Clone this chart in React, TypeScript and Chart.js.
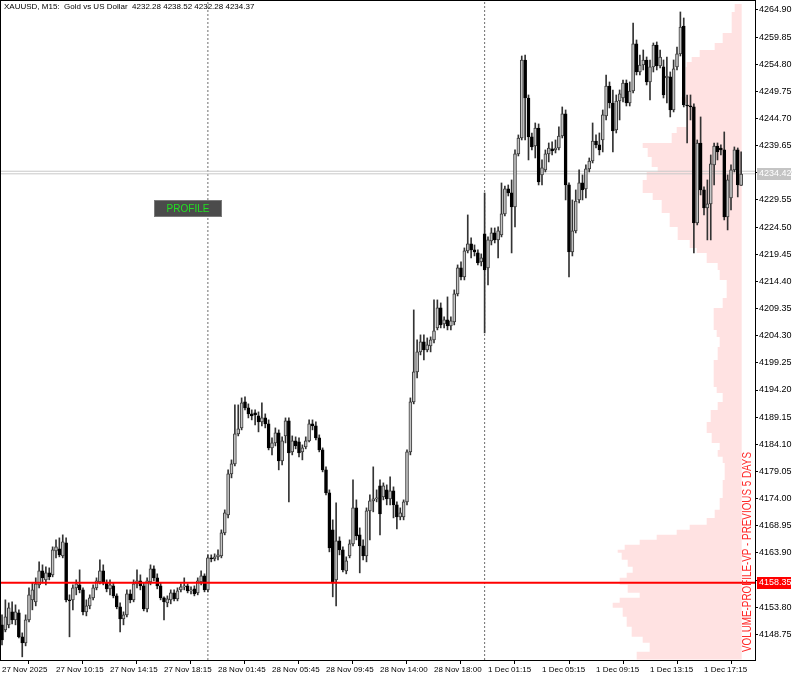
import React, { useEffect, useRef } from "react";
import { Chart, registerables } from "chart.js";

Chart.register(...registerables);

// ---------- data ----------
const titleText = "XAUUSD, M15:  Gold vs US Dollar  4232.28 4238.52 4232.28 4234.37";
const vpLabel = "VOLUME-PROFILE-VP - PREVIOUS 5 DAYS";
const buttonLabel = "PROFILE";

const timeLabels = [
  "27 Nov 2025", "27 Nov 10:15", "27 Nov 14:15", "27 Nov 18:15", "28 Nov 01:45", "28 Nov 05:45",
  "28 Nov 09:45", "28 Nov 14:00", "28 Nov 18:00", "1 Dec 01:15", "1 Dec 05:15", "1 Dec 09:15",
  "1 Dec 13:15", "1 Dec 17:15",
];
const timeLabelBars = [0, 16, 32, 48, 64, 80, 96, 112, 128, 144, 160, 176, 192, 208];

const priceTicks = [
  4148.75, 4153.8, 4158.85, 4163.9, 4168.95, 4174.0, 4179.05, 4184.1, 4189.15, 4194.2, 4199.25, 4204.3,
  4209.35, 4214.4, 4219.45, 4224.5, 4229.55, 4234.6, 4239.65, 4244.7, 4249.75, 4254.8, 4259.85, 4264.9,
];

const opens = [
  4150.51, 4149.58, 4150.51, 4152.93, 4151.44, 4152.74, 4148.28, 4147.16, 4151.44, 4155.16,
  4154.79, 4157.95, 4160.55, 4158.88, 4160.18, 4159.81, 4164.27, 4164.65, 4163.34, 4165.76,
  4155.16, 4155.16, 4157.39, 4157.95, 4157.02, 4152.93, 4154.04, 4155.53, 4157.39, 4158.51,
  4160.55, 4158.32, 4157.21, 4157.76, 4155.90, 4153.86, 4151.63, 4152.37, 4156.28, 4155.16,
  4158.14, 4158.69, 4157.76, 4153.49, 4158.51, 4160.93, 4159.25, 4157.76, 4155.53, 4154.60,
  4155.16, 4156.46, 4155.35, 4157.02, 4157.58, 4157.76, 4156.83, 4157.21, 4156.46, 4158.51,
  4159.62, 4157.02, 4162.97, 4162.79, 4163.16, 4163.34, 4167.62, 4170.97, 4178.60, 4180.46,
  4186.04, 4187.15, 4191.99, 4190.87, 4189.76, 4189.94, 4189.38, 4188.27, 4189.01, 4187.90,
  4183.43, 4184.36, 4186.22, 4181.01, 4185.66, 4188.45, 4182.69, 4184.73, 4184.55, 4182.69,
  4183.62, 4184.73, 4187.90, 4187.52, 4185.29, 4183.06, 4179.34, 4175.06, 4168.18, 4158.88,
  4166.13, 4164.46, 4160.55, 4163.34, 4165.58, 4172.27, 4167.25, 4165.20, 4163.34, 4171.71,
  4173.57, 4173.95, 4176.36, 4174.32, 4175.62, 4173.95, 4175.43, 4172.83, 4170.60, 4170.60,
  4173.39, 4182.69, 4191.99, 4197.57, 4201.29, 4203.15, 4201.66, 4202.40, 4203.52, 4205.75,
  4209.47, 4206.50, 4207.24, 4206.12, 4206.87, 4212.08, 4216.91, 4215.24, 4220.07, 4221.38,
  4220.26, 4219.70, 4218.03, 4223.24, 4216.91, 4221.93, 4223.42, 4222.12, 4223.05, 4226.96,
  4231.61, 4230.86, 4228.26, 4238.12, 4241.09, 4255.60, 4248.53, 4241.28, 4239.60, 4242.95,
  4234.21, 4235.14, 4238.12, 4239.05, 4238.86, 4239.23, 4241.46, 4245.56, 4232.35, 4219.89,
  4223.79, 4229.56, 4232.72, 4231.61, 4235.33, 4236.81, 4240.53, 4239.79, 4240.72, 4245.18,
  4250.76, 4247.60, 4242.58, 4247.97, 4248.53, 4251.32, 4247.60, 4249.83, 4258.58, 4253.37,
  4254.67, 4255.60, 4251.51, 4254.30, 4258.39, 4254.48, 4254.30, 4252.25, 4252.44, 4246.30,
  4254.30, 4256.72, 4261.92, 4247.23, 4247.04, 4246.86, 4225.28, 4240.16, 4231.42, 4228.07,
  4228.82, 4236.07, 4239.60, 4239.23, 4238.86, 4226.40, 4229.93, 4235.14, 4238.86, 4232.28,
];

const highs = [
  4152.37, 4155.16, 4154.60, 4154.79, 4154.23, 4153.30, 4149.02, 4152.37, 4157.39, 4158.32,
  4159.25, 4162.23, 4161.67, 4161.30, 4161.11, 4165.02, 4166.32, 4166.69, 4167.25, 4166.69,
  4156.09, 4157.95, 4158.88, 4160.74, 4157.39, 4155.16, 4156.09, 4157.95, 4159.25, 4162.60,
  4161.67, 4158.88, 4158.88, 4158.32, 4156.28, 4154.60, 4152.93, 4157.02, 4157.02, 4158.88,
  4160.74, 4159.81, 4158.32, 4159.25, 4161.67, 4161.48, 4160.00, 4158.32, 4155.72, 4155.90,
  4157.02, 4157.02, 4157.39, 4158.14, 4159.25, 4158.14, 4157.58, 4157.76, 4159.25, 4160.55,
  4160.00, 4163.53, 4163.53, 4163.72, 4164.46, 4168.18, 4171.90, 4179.34, 4181.20, 4191.43,
  4191.43, 4192.73, 4192.92, 4191.62, 4190.50, 4190.50, 4190.13, 4191.80, 4189.76, 4188.64,
  4185.29, 4187.15, 4186.78, 4185.48, 4189.01, 4189.01, 4185.66, 4185.48, 4185.29, 4183.99,
  4185.48, 4188.64, 4188.64, 4188.27, 4185.85, 4183.43, 4179.90, 4175.62, 4170.04, 4173.20,
  4166.88, 4165.02, 4163.16, 4166.32, 4177.48, 4173.76, 4168.55, 4166.32, 4172.27, 4174.69,
  4179.90, 4175.62, 4177.48, 4176.92, 4176.55, 4178.04, 4176.18, 4173.39, 4172.27, 4173.76,
  4183.06, 4192.73, 4209.10, 4203.52, 4204.45, 4204.45, 4203.89, 4204.08, 4210.96, 4210.96,
  4210.40, 4207.80, 4211.52, 4207.80, 4212.82, 4217.47, 4218.03, 4220.63, 4226.77, 4222.49,
  4221.19, 4220.26, 4219.52, 4230.86, 4222.68, 4224.35, 4224.35, 4224.54, 4232.72, 4232.16,
  4232.35, 4233.28, 4238.86, 4241.65, 4256.34, 4256.53, 4249.09, 4242.02, 4243.88, 4243.70,
  4237.00, 4238.86, 4240.16, 4240.35, 4240.72, 4243.14, 4246.86, 4246.30, 4232.72, 4229.56,
  4231.42, 4235.14, 4234.21, 4236.07, 4237.37, 4243.88, 4241.65, 4242.02, 4246.30, 4252.81,
  4251.51, 4250.02, 4249.09, 4250.02, 4251.88, 4251.88, 4251.51, 4262.48, 4259.32, 4256.53,
  4257.46, 4256.16, 4255.60, 4258.76, 4258.95, 4257.46, 4255.60, 4256.16, 4253.37, 4255.60,
  4258.02, 4264.53, 4263.41, 4249.09, 4249.09, 4247.42, 4240.72, 4245.00, 4231.98, 4233.28,
  4237.93, 4240.16, 4240.16, 4239.79, 4242.21, 4234.21, 4236.07, 4239.42, 4239.23, 4238.52,
];

const lows = [
  4146.79, 4149.21, 4149.95, 4150.70, 4150.51, 4148.09, 4144.56, 4146.60, 4151.07, 4153.30,
  4154.04, 4157.39, 4158.32, 4157.95, 4158.88, 4159.44, 4162.97, 4163.16, 4162.97, 4154.79,
  4148.28, 4153.30, 4156.09, 4156.46, 4152.37, 4152.18, 4153.49, 4155.16, 4157.02, 4158.14,
  4157.95, 4156.65, 4156.09, 4155.53, 4153.49, 4149.21, 4150.51, 4152.00, 4154.60, 4154.79,
  4157.39, 4157.02, 4153.11, 4152.93, 4157.95, 4158.69, 4157.21, 4155.16, 4151.44, 4153.86,
  4154.42, 4154.97, 4154.97, 4156.65, 4157.02, 4156.46, 4156.28, 4155.90, 4156.09, 4157.95,
  4156.65, 4156.65, 4162.23, 4162.41, 4162.60, 4162.97, 4167.25, 4170.41, 4177.85, 4180.08,
  4185.66, 4186.78, 4190.50, 4189.01, 4188.64, 4187.71, 4186.41, 4187.52, 4187.15, 4183.06,
  4182.13, 4183.80, 4179.34, 4180.27, 4184.36, 4173.39, 4182.13, 4183.25, 4181.76, 4181.20,
  4183.25, 4184.55, 4186.78, 4184.92, 4182.69, 4178.97, 4174.69, 4164.09, 4155.72, 4154.04,
  4163.53, 4160.37, 4160.00, 4162.97, 4165.20, 4166.32, 4160.18, 4162.60, 4162.23, 4166.32,
  4171.53, 4173.39, 4167.25, 4173.76, 4172.83, 4172.83, 4170.41, 4168.37, 4170.04, 4170.04,
  4172.83, 4182.13, 4191.62, 4196.45, 4200.73, 4199.80, 4201.29, 4201.29, 4202.96, 4205.38,
  4205.75, 4205.75, 4205.38, 4205.38, 4206.31, 4211.70, 4214.68, 4214.68, 4219.70, 4218.77,
  4219.14, 4217.47, 4217.28, 4204.82, 4213.75, 4221.19, 4221.56, 4218.77, 4222.68, 4226.58,
  4230.30, 4219.70, 4224.54, 4237.74, 4240.72, 4240.72, 4237.00, 4238.86, 4237.37, 4232.35,
  4232.35, 4234.77, 4236.63, 4237.93, 4238.30, 4238.86, 4241.09, 4229.56, 4215.24, 4219.14,
  4223.42, 4229.00, 4229.56, 4229.93, 4234.77, 4236.44, 4239.23, 4237.93, 4238.49, 4244.44,
  4246.67, 4238.49, 4242.02, 4244.44, 4247.79, 4247.04, 4247.04, 4249.46, 4252.81, 4252.81,
  4253.74, 4250.95, 4248.16, 4253.37, 4253.74, 4254.11, 4248.53, 4247.60, 4245.00, 4245.93,
  4253.74, 4256.34, 4246.86, 4240.16, 4244.44, 4219.70, 4224.91, 4230.49, 4226.77, 4222.12,
  4222.12, 4232.35, 4237.00, 4237.93, 4225.84, 4223.98, 4227.70, 4234.77, 4230.12, 4232.28,
];

const closes = [
  4147.72, 4152.00, 4153.67, 4151.44, 4152.93, 4148.28, 4147.16, 4151.44, 4156.09, 4157.02,
  4158.14, 4160.55, 4159.25, 4160.18, 4159.44, 4164.46, 4165.02, 4163.53, 4165.95, 4155.16,
  4154.97, 4157.39, 4158.14, 4157.02, 4152.93, 4154.04, 4155.53, 4157.39, 4158.69, 4160.55,
  4158.32, 4157.21, 4157.95, 4155.90, 4153.86, 4151.63, 4152.37, 4156.28, 4155.16, 4158.14,
  4158.69, 4157.76, 4153.49, 4158.69, 4160.93, 4159.25, 4157.76, 4155.53, 4154.79, 4155.35,
  4156.46, 4155.35, 4156.83, 4157.58, 4157.76, 4156.83, 4157.02, 4156.28, 4158.69, 4159.62,
  4157.02, 4162.97, 4162.79, 4163.16, 4163.53, 4167.62, 4171.34, 4178.60, 4180.46, 4186.04,
  4186.97, 4191.80, 4190.87, 4189.76, 4189.38, 4189.57, 4188.27, 4189.01, 4187.90, 4183.43,
  4184.36, 4186.22, 4181.01, 4184.73, 4188.45, 4182.50, 4184.73, 4183.80, 4182.50, 4183.43,
  4184.73, 4187.90, 4187.52, 4185.29, 4183.06, 4179.34, 4175.06, 4164.83, 4158.32, 4166.13,
  4164.46, 4160.74, 4162.41, 4165.58, 4172.27, 4167.06, 4165.20, 4163.34, 4171.71, 4173.57,
  4173.95, 4174.13, 4171.16, 4176.36, 4173.95, 4175.43, 4172.83, 4170.60, 4171.34, 4173.39,
  4182.69, 4191.99, 4197.57, 4201.29, 4203.15, 4201.66, 4202.59, 4203.52, 4205.19, 4209.47,
  4206.31, 4207.24, 4206.12, 4207.05, 4212.08, 4216.91, 4215.24, 4220.07, 4221.38, 4220.26,
  4219.89, 4217.84, 4218.77, 4216.54, 4222.12, 4223.42, 4222.12, 4223.79, 4226.96, 4231.61,
  4230.86, 4228.26, 4238.12, 4241.09, 4255.60, 4248.53, 4241.28, 4239.42, 4242.95, 4232.91,
  4235.51, 4238.12, 4239.23, 4238.67, 4239.23, 4241.46, 4245.56, 4232.35, 4219.89, 4223.79,
  4229.37, 4232.72, 4231.42, 4235.33, 4236.81, 4240.53, 4239.79, 4238.86, 4245.37, 4250.76,
  4247.60, 4242.39, 4247.97, 4249.28, 4251.32, 4247.60, 4249.83, 4258.58, 4253.37, 4254.67,
  4255.60, 4251.51, 4254.30, 4258.39, 4254.48, 4256.16, 4249.09, 4252.62, 4246.30, 4253.93,
  4256.72, 4261.74, 4247.23, 4247.04, 4246.86, 4225.28, 4240.16, 4231.42, 4228.07, 4228.82,
  4236.26, 4239.60, 4238.49, 4238.86, 4226.40, 4233.28, 4235.14, 4238.86, 4232.35, 4234.37,
];

// volume profile (previous 5 days): lower price of each band and its volume
const vpPrices = [
  4144.0, 4145.49, 4147.16, 4148.28, 4150.14, 4152.0, 4153.67, 4154.6, 4155.53, 4156.46,
  4157.95, 4159.25, 4160.18, 4161.3, 4162.6, 4163.9, 4164.46, 4165.39, 4166.32, 4167.25,
  4168.18, 4169.11, 4170.41, 4171.9, 4174.13, 4177.48, 4180.64, 4181.76, 4183.06, 4184.36,
  4186.22, 4188.27, 4190.5, 4191.99, 4193.66, 4194.78, 4199.8, 4202.22, 4204.08, 4205.38,
  4209.47, 4211.33, 4214.68, 4216.54, 4217.84, 4219.7, 4220.63, 4222.12, 4224.54, 4227.14,
  4229.56, 4230.86, 4233.28, 4234.77, 4235.7, 4237.56, 4239.23, 4240.16, 4242.02, 4243.14,
  4247.6, 4248.72, 4254.3, 4255.23, 4256.16, 4257.46, 4258.76, 4260.62, 4264.53, 4266.02,
];
const vpVolumes = [
  105, 92, 99, 110, 115, 119, 129, 122, 102, 114,
  122, 115, 109, 114, 120, 124, 117, 102, 85, 65,
  52, 35, 27, 22, 19, 17, 19, 24, 22, 30,
  35, 31, 24, 19, 25, 28, 24, 22, 25, 28,
  19, 15, 22, 24, 35, 45, 52, 64, 72, 80,
  89, 99, 95, 84, 90, 94, 99, 70, 65, 55,
  60, 56, 55, 50, 42, 27, 19, 10, 7, 7,
];

const daySeparatorBars = [61, 143];
const levelPrice = 4158.35;
const bidPrice = 4234.42;
const askPrice = 4234.9;

// ---------- view ranges ----------
const X_MIN = -0.296;
const X_MAX = 223.111;
const Y_MIN = 4143.97;
const Y_MAX = 4266.57;
const VP_MIN = -13.3;
const VP_MAX = 740.7;

const FONT = '"Liberation Sans", Arial, sans-serif';

const overlayPlugin = {
  id: "mtOverlay",
  afterDraw(chart: any) {
    const { ctx, chartArea: a, scales } = chart;
    const ys = scales.y;
    ctx.save();
    // frame
    ctx.strokeStyle = "#000";
    ctx.lineWidth = 1;
    ctx.strokeRect(a.left - 0.5, a.top - 0.5, a.right - a.left + 1, a.bottom - a.top + 1);

    // title
    ctx.fillStyle = "#000";
    ctx.font = `8px ${FONT}`;
    ctx.textAlign = "left";
    ctx.textBaseline = "middle";
    ctx.fillText(titleText, a.left + 3, a.top + 6);

    // price labels on the axis
    const box = (price: number, bg: string, fg: string) => {
      const py = Math.round(ys.getPixelForValue(price));
      ctx.fillStyle = bg;
      ctx.fillRect(a.right + 2, py - 6, 34, 12);
      ctx.fillStyle = fg;
      ctx.font = `9px ${FONT}`;
      ctx.textAlign = "left";
      ctx.textBaseline = "middle";
      ctx.fillText(price.toFixed(2), a.right + 4, py);
    };
    box(bidPrice, "#c4c4c4", "#ffffff");
    box(levelPrice, "#ff0000", "#ffffff");

    // PROFILE button
    const bx = a.left + 153, by = a.top + 199, bw = 68, bh = 17;
    ctx.fillStyle = "#4b4b4b";
    ctx.fillRect(bx, by, bw, bh);
    ctx.strokeStyle = "#7a7a7a";
    ctx.strokeRect(bx + 0.5, by + 0.5, bw - 1, bh - 1);
    ctx.fillStyle = "#22e022";
    ctx.font = `10px ${FONT}`;
    ctx.textAlign = "center";
    ctx.textBaseline = "middle";
    ctx.fillText(buttonLabel, bx + bw / 2, by + bh / 2 + 0.5);

    // vertical indicator caption
    ctx.save();
    ctx.translate(a.right - 7, 552);
    ctx.rotate(-Math.PI / 2);
    ctx.font = `12px ${FONT}`;
    const w = ctx.measureText(vpLabel).width;
    ctx.scale(200 / w, 1);
    ctx.fillStyle = "#ff2a2a";
    ctx.textAlign = "center";
    ctx.textBaseline = "middle";
    ctx.fillText(vpLabel, 0, 0);
    ctx.restore();

    ctx.restore();
  },
};

export default function App() {
  const ref = useRef<HTMLCanvasElement>(null);

  useEffect(() => {
    const bull = opens.map((o, i) => closes[i] >= o);
    const datasets: any[] = [
      {
        type: "line",
        label: "volume profile",
        indexAxis: "y",
        xAxisID: "xv",
        yAxisID: "y",
        data: vpPrices.map((p, k) => ({ x: vpVolumes[k], y: p })),
        stepped: "after",
        fill: "origin",
        backgroundColor: "#ffe2e2",
        borderColor: "transparent",
        borderWidth: 0,
        pointRadius: 0,
        order: 10,
      },
      ...daySeparatorBars.map((s) => ({
        type: "line",
        label: "separator",
        xAxisID: "x",
        yAxisID: "y",
        data: [
          { x: s, y: Y_MIN },
          { x: s, y: Y_MAX },
        ],
        borderColor: "#6e6e6e",
        borderWidth: 1,
        borderDash: [2, 2],
        pointRadius: 0,
        fill: false,
        order: 8,
      })),
      ...[bidPrice, askPrice].map((p) => ({
        type: "line",
        label: "bid",
        xAxisID: "x",
        yAxisID: "y",
        data: [
          { x: X_MIN, y: p },
          { x: X_MAX, y: p },
        ],
        borderColor: "#c8c8c8",
        borderWidth: 1,
        pointRadius: 0,
        fill: false,
        order: 7,
      })),
      {
        type: "bar",
        label: "wicks",
        xAxisID: "x",
        yAxisID: "y",
        data: highs.map((h, i) => ({ x: i, y: [lows[i], h] })),
        barThickness: 1,
        grouped: false,
        backgroundColor: "#333333",
        borderWidth: 0,
        order: 3,
      },
      {
        type: "bar",
        label: "bodies",
        xAxisID: "x",
        yAxisID: "y",
        data: opens.map((o, i) => ({ x: i, y: [o, closes[i]] })),
        barThickness: 3,
        grouped: false,
        minBarLength: 1,
        backgroundColor: bull.map((b) => (b ? "#c4c4c4" : "#000000")),
        borderColor: bull.map((b) => (b ? "#3a3a3a" : "#000000")),
        borderWidth: 1,
        borderSkipped: false,
        order: 2,
      },
      {
        type: "line",
        label: "level",
        xAxisID: "x",
        yAxisID: "y",
        data: [
          { x: X_MIN, y: levelPrice },
          { x: X_MAX, y: levelPrice },
        ],
        borderColor: "#ff0000",
        borderWidth: 2,
        pointRadius: 0,
        fill: false,
        order: 0,
      },
    ];

    const chart = new Chart(ref.current as HTMLCanvasElement, {
      type: "bar",
      data: { datasets },
      options: {
        responsive: false,
        maintainAspectRatio: false,
        animation: false,
        devicePixelRatio: 1,
        events: [],
        layout: { padding: { left: 1, top: 1, right: 0, bottom: 0 } },
        plugins: { legend: { display: false }, tooltip: { enabled: false }, title: { display: false } },
        scales: {
          x: {
            type: "linear",
            position: "bottom",
            min: X_MIN,
            max: X_MAX,
            offset: false,
            afterBuildTicks: (scale: any) => {
              scale.ticks = timeLabelBars.map((v) => ({ value: v }));
            },
            afterFit: (scale: any) => {
              scale.height = 19;
              scale.paddingLeft = 0;
              scale.paddingRight = 0;
            },
            ticks: {
              autoSkip: false,
              maxRotation: 0,
              minRotation: 0,
              align: "start",
              padding: 1,
              color: "#000",
              font: { family: FONT, size: 8 },
              callback: (_v: any, idx: number) => timeLabels[idx],
            },
            grid: { display: true, drawOnChartArea: false, drawTicks: true, tickLength: 4, color: "#000" },
            border: { display: true, color: "#000" },
          },
          xv: {
            type: "linear",
            axis: "x",
            position: "top",
            display: false,
            offset: false,
            reverse: true,
            min: VP_MIN,
            max: VP_MAX,
          },
          y: {
            type: "linear",
            position: "right",
            min: Y_MIN,
            max: Y_MAX,
            offset: false,
            afterBuildTicks: (scale: any) => {
              scale.ticks = priceTicks.map((v) => ({ value: v }));
            },
            afterFit: (scale: any) => {
              scale.width = 45;
              scale.paddingTop = 0;
              scale.paddingBottom = 0;
            },
            ticks: {
              autoSkip: false,
              padding: 1,
              color: "#000",
              font: { family: FONT, size: 9 },
              callback: (v: any) => Number(v).toFixed(2),
            },
            grid: { display: true, drawOnChartArea: false, drawTicks: true, tickLength: 3, color: "#000" },
            border: { display: true, color: "#000" },
          },
        },
      } as any,
      plugins: [overlayPlugin],
    } as any);
    return () => chart.destroy();
  }, []);

  return (
    <div style={{ position: "fixed", left: 0, top: 0, width: 800, height: 679, background: "#ffffff" }}>
      <canvas ref={ref} width={800} height={679} style={{ display: "block", width: 800, height: 679 }} />
    </div>
  );
}
